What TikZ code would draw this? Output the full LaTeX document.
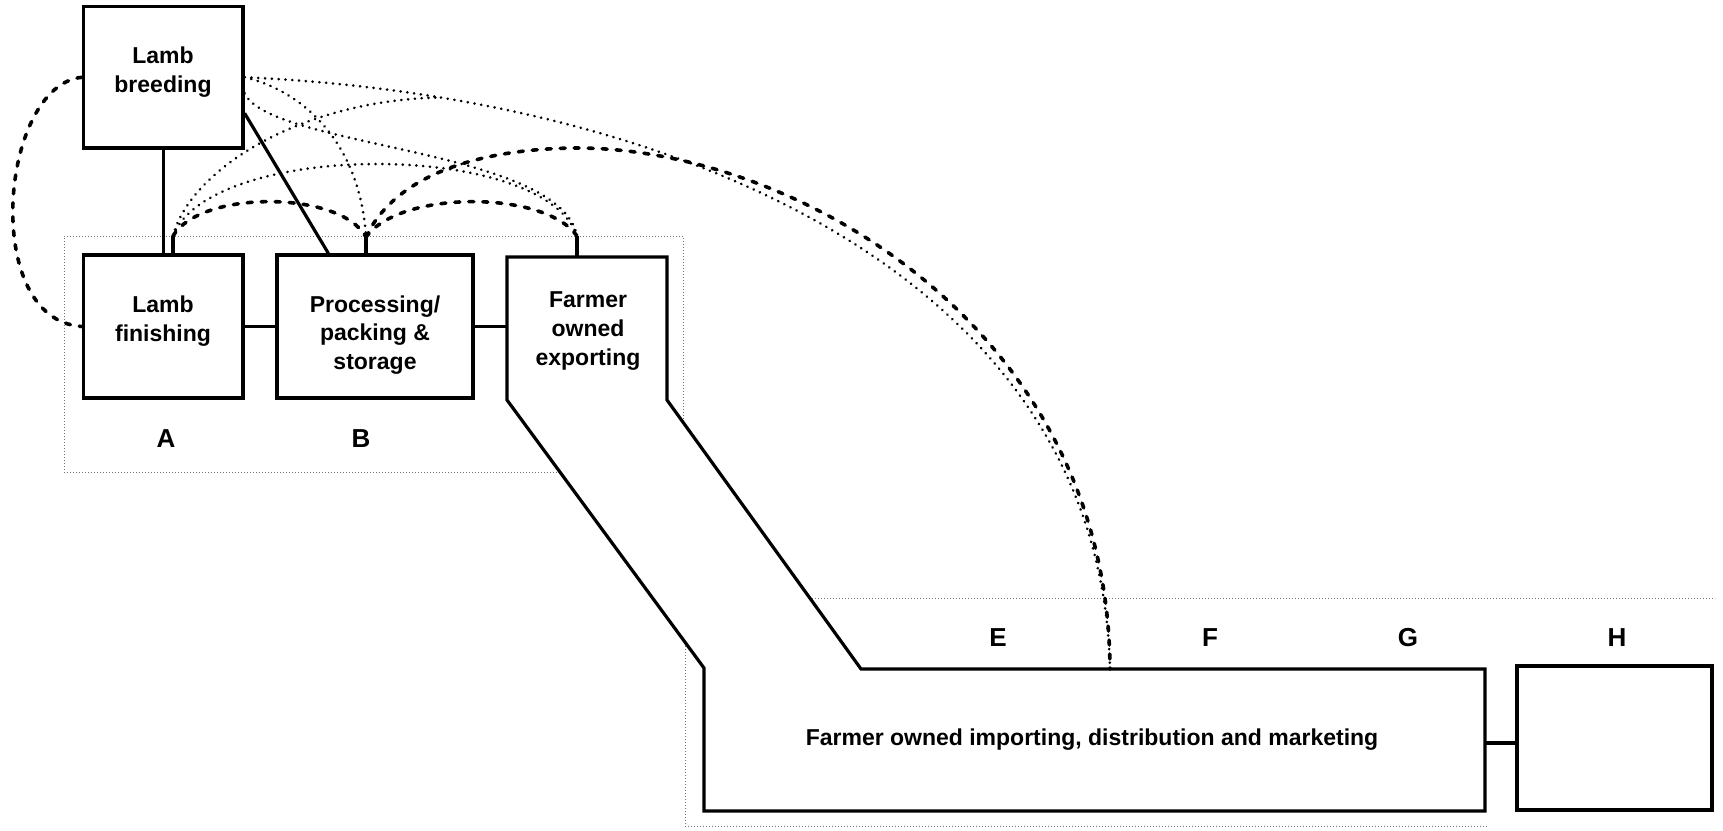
\documentclass[tikz,border=0pt]{standalone}
\usepackage{fontspec}
\setmainfont{Liberation Sans}
\usetikzlibrary{calc}
\begin{document}
\begin{tikzpicture}[x=1pt,y=-1pt,
  box/.style={draw,line width=3.2pt,inner sep=0pt},
  txt/.style={font=\fontsize{23}{28.6}\selectfont\bfseries,align=center,inner sep=0pt},
  lbl/.style={font=\fontsize{26}{30}\selectfont\bfseries,inner sep=0pt},
  solidlink/.style={line width=3.2pt},
  dashlink/.style={line width=3.6pt,line cap=round,dash pattern=on 5pt off 9pt},
  dotlink/.style={line width=2.9pt,line cap=round,dash pattern=on 0.01pt off 6.8pt},
  region/.style={line width=1pt,black!55,dash pattern=on 1pt off 2pt},
]
\useasboundingbox (0,0) rectangle (1723,830);

% dotted group outlines
\draw[region] (560,472) -- (64,472) -- (64,236) -- (683,236) -- (683,421);
\draw[region] (812,598) -- (1715,598);
\draw[region] (685,643) -- (685,826) -- (1487,826);

% boxes
\node[box,minimum width=159.5pt,minimum height=141.4pt] (brd) at (163.3,77.3) {};
\node[box,minimum width=159.5pt,minimum height=143pt] (fin) at (163.3,326.5) {};
\node[box,minimum width=196pt,minimum height=143pt] (proc) at (375,326.5) {};
\node[box,minimum width=195pt,minimum height=144pt] (hbox) at (1614.5,738) {};

% exporting box running into the importing block
\draw[solidlink,line join=miter] (507,257) -- (667,257) -- (667,400) -- (861,669)
  -- (1485,669) -- (1485,811) -- (704,811) -- (704,668) -- (507,400) -- cycle;
\coordinate (expW) at (507,326.5);
\coordinate (impE) at (1485,743);
\coordinate (impTop) at (1110,669);

% texts
\node[txt] (brdtxt) at (163,72) {Lamb\\breeding};
\node[txt] (fintxt) at (163,321) {Lamb\\finishing};
\node[txt] (proctxt) at (375,335) {Processing/\\packing \&\\storage};
\node[txt] (exptxt) at (588,331) {Farmer\\owned\\exporting};
\node[txt] (imptxt) at (1092,740) {Farmer owned importing, distribution and marketing};

\node[lbl] (la) at (166,439) {A};
\node[lbl] (lb) at (361,439) {B};
\node[lbl] (le) at (998,638) {E};
\node[lbl] (lf) at (1210,638) {F};
\node[lbl] (lg) at (1408,638) {G};
\node[lbl] (lh) at (1617,638) {H};

% solid links
\draw[solidlink] (brd.south) -- (fin.north);
\draw[solidlink] ($(brd.east)+(0,36)$) -- ($(proc.north west)+(53,0)$);
\draw[solidlink] (fin.east) -- (proc.west);
\draw[solidlink] (proc.east) -- (expW);
\draw[solidlink] (impE) -- (hbox.west |- impE);

% meeting points above the boxes
\coordinate (hubA) at (173,236);
\coordinate (hubB) at (366,237);
\coordinate (hubC) at (577,236);
\draw[line width=3.4pt] (hubA) -- (hubA |- fin.north);
\draw[line width=3.4pt] (hubB) -- (hubB |- proc.north);
\draw[line width=3.4pt] (hubC) -- (577,257);

% dashed links
\draw[dashlink] (brd.west) .. controls (0,85) and (-20,320) .. (fin.west);
\draw[dashlink] (hubA) .. controls (200,190) and (340,190) .. (hubB);
\draw[dashlink] (hubB) .. controls (400,190) and (545,190) .. (hubC);
\draw[dashlink] (hubB) .. controls (395,175) and (480,148) .. (580,148)
  .. controls (800,150) and (1108,330) .. (impTop);

% dotted links
\draw[dotlink] (brd.east) .. controls (650,95) and (1100,260) .. (impTop)
  coordinate[pos=0.16] (merge);
\draw[dotlink] (brd.east) .. controls (300,90) and (360,140) .. (hubB);
\draw[dotlink] ($(brd.east)+(0,16)$) .. controls (270,148) and (560,148) .. (hubC);
\draw[dotlink] (hubA) .. controls (190,170) and (300,100) .. (merge);
\draw[dotlink] (hubA) .. controls (210,140) and (545,140) .. (hubC);
\end{tikzpicture}
\end{document}
